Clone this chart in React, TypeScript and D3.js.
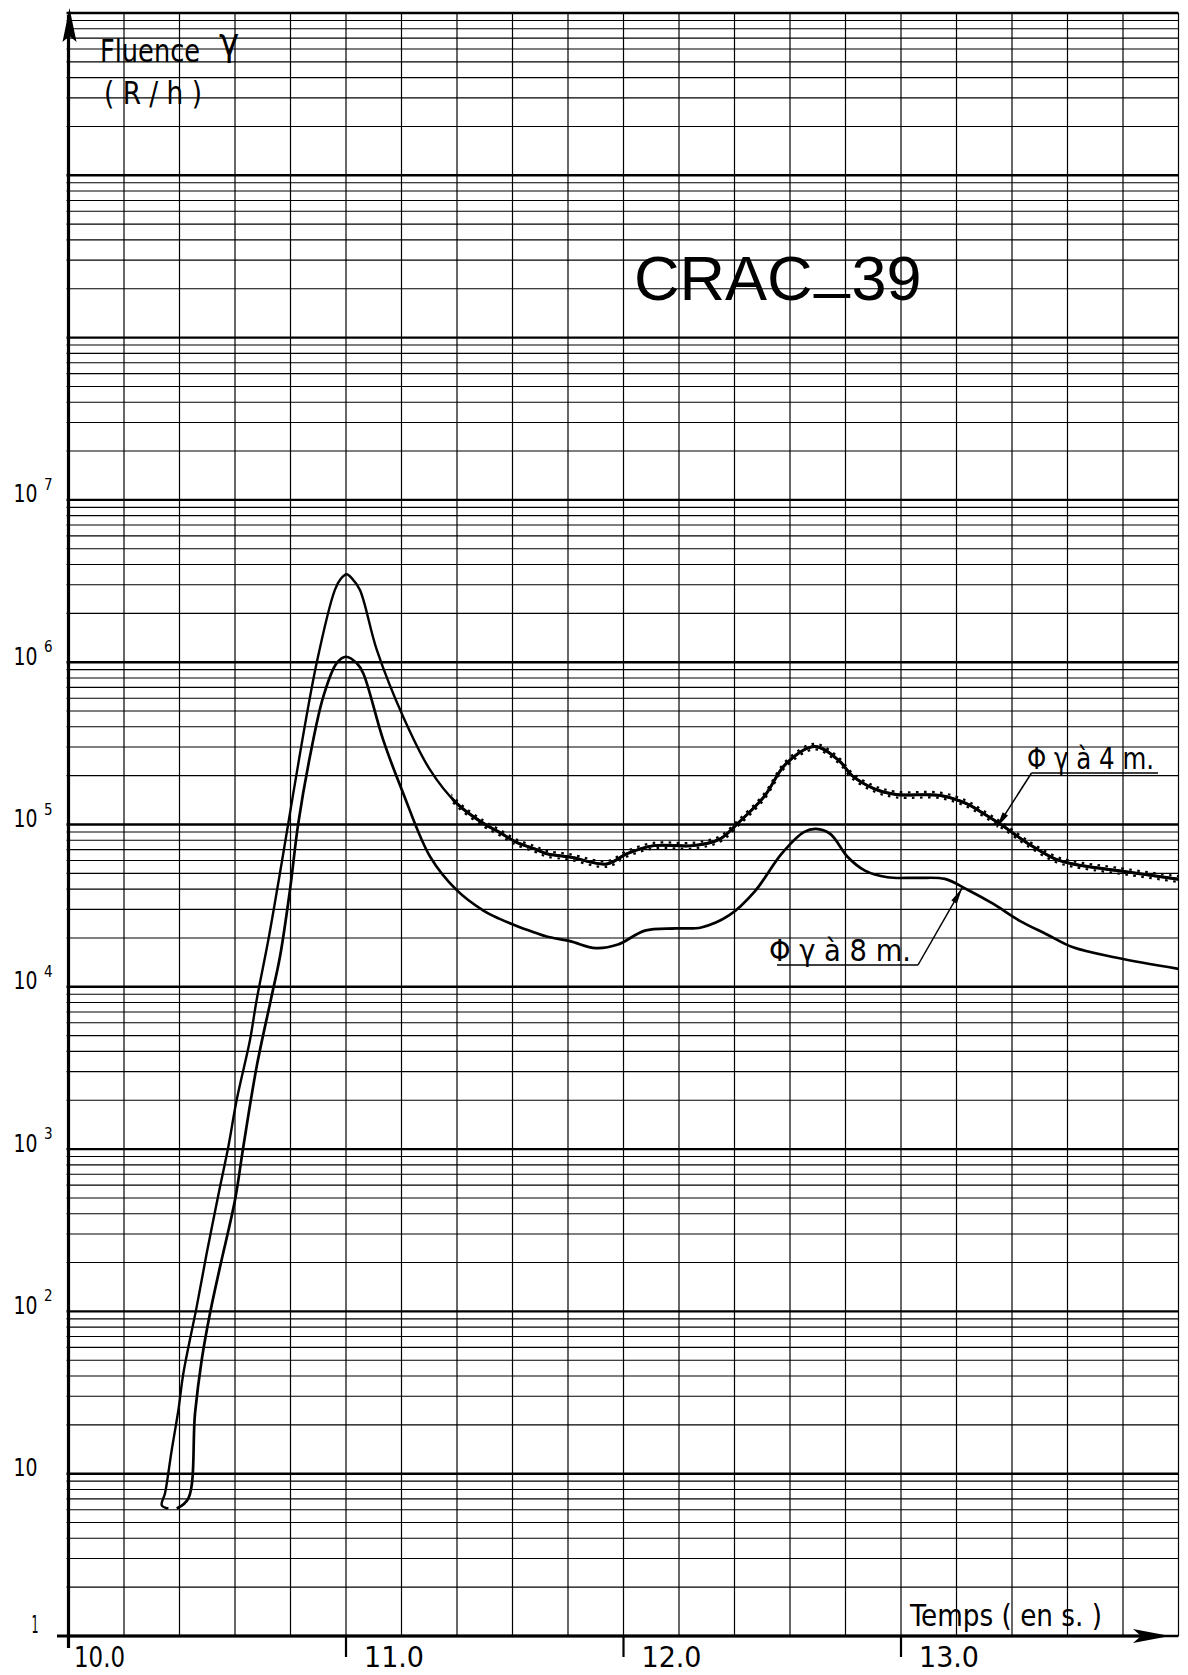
import React from 'react';
import * as d3 from 'd3';

// ---- Data ----
const time4m = [10.360, 10.336, 10.348, 10.372, 10.396, 10.414, 10.462, 10.498, 10.546, 10.576, 10.606, 10.654, 10.678, 10.720, 10.768, 10.792, 10.810, 10.894, 10.960, 10.980, 11.002, 11.022, 11.050, 11.111, 11.206, 11.303, 11.399, 11.495, 11.552, 11.615, 11.680, 11.723, 11.807, 11.940, 12.013, 12.110, 12.250, 12.347, 12.410, 12.506, 12.586, 12.689, 12.776, 12.824, 12.904, 12.983, 13.142, 13.238, 13.300, 13.365, 13.460, 13.555, 13.620, 13.780, 14.000];
const flux4m = [6.1, 6.4, 7.6, 14, 24.7, 41.6, 107, 228, 586, 1035, 2005, 4700, 8300, 19400, 57700, 101600, 155600, 984000, 2.79e6, 3.24e6, 3.48e6, 3.27e6, 2.79e6, 1.19e6, 461000, 217000, 135000, 101600, 89700, 77600, 70800, 66100, 63100, 57100, 66100, 74100, 74100, 81300, 101000, 148000, 237000, 302000, 248000, 200000, 166000, 153000, 151000, 134000, 116000, 98600, 75900, 61400, 57100, 52000, 46000];

const time8m = [10.390, 10.432, 10.456, 10.480, 10.510, 10.546, 10.600, 10.630, 10.678, 10.729, 10.762, 10.798, 10.828, 10.870, 10.918, 10.966, 11.000, 11.039, 11.062, 11.134, 11.206, 11.303, 11.399, 11.495, 11.552, 11.615, 11.680, 11.723, 11.807, 11.900, 11.980, 12.077, 12.188, 12.280, 12.380, 12.474, 12.570, 12.650, 12.694, 12.745, 12.808, 12.870, 12.951, 13.060, 13.158, 13.238, 13.333, 13.428, 13.524, 13.620, 13.778, 14.000];
const flux8m = [6.1, 7.05, 23.6, 50.2, 97.3, 188, 485, 1035, 3220, 8300, 15300, 39400, 101600, 262000, 612000, 984000, 1.08e6, 984000, 855000, 332000, 156000, 63400, 39400, 29500, 26300, 23700, 21600, 20400, 19100, 17300, 18200, 22200, 22900, 23200, 27500, 38900, 66100, 89700, 94000, 87500, 63100, 52000, 47300, 46900, 46200, 39800, 32400, 25500, 21100, 17500, 15100, 12900];

const timeTicks = [10, 11, 12, 13];
const timeTickLabels = ['10.0', '11.0', '12.0', '13.0'];
const decadeValues = [1, 10, 1e2, 1e3, 1e4, 1e5, 1e6, 1e7];
const decadeBase = ['1', '10', '10', '10', '10', '10', '10', '10'];
const decadeExp = ['', '', '2', '3', '4', '5', '6', '7'];

const titleMain = 'CRAC';
const titleSep = '_';
const titleNum = '39';
const yTitle1 = 'Fluence';
const yTitle2 = '( R / h )';
const xTitle = 'Temps ( en s. )';
const label4m = 'Φ γ à 4 m.';
const label8m = 'Φ γ à 8 m.';
const arrow4m = { t: 13.345, v: 96000 };
const arrow8m = { t: 13.22, v: 40500 };

const W = 1188;
const H = 1675;
const LETTER = "'DejaVu Sans Condensed', 'DejaVu Sans', sans-serif";

function arrowHead(x1: number, y1: number, x2: number, y2: number, len = 16, hw = 3.2) {
  const a = Math.atan2(y2 - y1, x2 - x1);
  const bx = x2 - len * Math.cos(a);
  const by = y2 - len * Math.sin(a);
  const px = -Math.sin(a) * hw;
  const py = Math.cos(a) * hw;
  return `M${x2},${y2}L${bx + px},${by + py}L${bx - px},${by - py}Z`;
}

export default function App() {
  const x = d3.scaleLinear().domain([10, 14]).range([68.5, 1178.5]);
  const y = d3.scaleLog().domain([1, 1e10]).range([1636, 13]);

  const vTicks = x.ticks(20);
  const hTicks = y.ticks(30);

  const line = d3
    .line<[number, number]>()
    .x((d) => x(d[0]))
    .y((d) => y(d[1]))
    .curve(d3.curveCatmullRom.alpha(0.5));

  const pts4m = time4m.map((t, i) => [t, flux4m[i]] as [number, number]);
  const pts8m = time8m.map((t, i) => [t, flux8m[i]] as [number, number]);
  const path4m = line(pts4m) || '';
  const path8m = line(pts8m) || '';

  const x0 = x(10);
  const xEnd = x(14);
  const yBottom = y(1);
  const yTop = y(1e10);

  const a4x = x(arrow4m.t), a4y = y(arrow4m.v);
  const a8x = x(arrow8m.t), a8y = y(arrow8m.v);
  const l4 = { x1: 1031.5, y1: 773 };
  const l8 = { x1: 918, y1: 965 };

  return (
    <svg
      width={W}
      height={H}
      viewBox={`0 0 ${W} ${H}`}
      style={{ position: 'absolute', left: 0, top: 0, display: 'block', background: '#fff' }}
    >
      <defs>
        <clipPath id="rippleClip">
          <rect x={x(11.38)} y={0} width={W} height={H} />
        </clipPath>
      </defs>
      <rect x={0} y={0} width={W} height={H} fill="#fff" />

      {/* horizontal log grid */}
      <g stroke="#000">
        {hTicks.map((v, i) => {
          const major = Math.abs(Math.log10(v) - Math.round(Math.log10(v))) < 1e-9;
          return (
            <line
              key={'h' + i}
              x1={x0 - 2}
              x2={xEnd}
              y1={y(v)}
              y2={y(v)}
              strokeWidth={major ? 2.4 : 1.1}
            />
          );
        })}
      </g>
      {/* vertical grid */}
      <g stroke="#000">
        {vTicks.map((t, i) => (
          <line key={'v' + i} x1={x(t)} x2={x(t)} y1={yTop} y2={yBottom} strokeWidth={1.2} />
        ))}
      </g>

      {/* axes */}
      <line x1={x0} x2={x0} y1={yBottom + 12} y2={yTop + 2} stroke="#000" strokeWidth={3.2} />
      <path d={`M${x0 + 1},8 L${x0 - 6},42 L${x0 + 1},36 L${x0 + 8},42 Z`} fill="#000" />
      <line x1={57} x2={1140} y1={yBottom} y2={yBottom} stroke="#000" strokeWidth={3.2} />
      <path d={`M1170,${yBottom} L1133,${yBottom - 7} L1141,${yBottom} L1133,${yBottom + 7} Z`} fill="#000" />
      {timeTicks.slice(1).map((t, i) => (
        <line key={'mt' + i} x1={x(t)} x2={x(t)} y1={yBottom} y2={yBottom + 21} stroke="#000" strokeWidth={2.2} />
      ))}

      {/* x tick labels */}
      {timeTicks.map((t, i) => (
        <text
          key={'xl' + i}
          x={x(t) + (i === 0 ? 5.5 : 18)}
          y={1667}
          fontFamily={LETTER}
          fontSize={28}
          textLength={i === 0 ? 51 : 60}
          lengthAdjust="spacingAndGlyphs"
          fill="#000"
        >
          {timeTickLabels[i]}
        </text>
      ))}

      {/* y tick labels */}
      {decadeValues.map((v, i) => {
        const yy = y(v);
        const base = decadeBase[i];
        const isOne = base === '1';
        return (
          <g key={'yl' + i} fill="#000" fontFamily={LETTER}>
            <text
              x={isOne ? 38.5 : 37.5}
              y={isOne ? yy - 3 : yy + 2.5}
              fontSize={25}
              textAnchor="end"
              textLength={isOne ? 7 : 24}
              lengthAdjust="spacingAndGlyphs"
            >
              {base}
            </text>
            {decadeExp[i] && (
              <text x={44} y={yy - 10} fontSize={15}>
                {decadeExp[i]}
              </text>
            )}
          </g>
        );
      })}

      {/* curves */}
      <path d={path8m} fill="none" stroke="#000" strokeWidth={2.7} strokeLinejoin="round" />
      <path d={path4m} fill="none" stroke="#000" strokeWidth={2.4} strokeLinejoin="round" />
      <g clipPath="url(#rippleClip)" fill="none" stroke="#000" strokeWidth={2.2}>
        <path d={path4m} strokeWidth={3} />
        <path d={path4m} transform="translate(0,-2.8)" strokeDasharray="2.6 5.4" />
        <path d={path4m} transform="translate(0,2.8)" strokeDasharray="2.6 5.4" strokeDashoffset={4} />
      </g>

      {/* annotations */}
      <g stroke="#000" strokeWidth={1.5} fill="none">
        <line x1={l4.x1} y1={l4.y1} x2={1158} y2={l4.y1} />
        <line x1={l4.x1} y1={l4.y1} x2={a4x} y2={a4y} />
        <line x1={777} y1={l8.y1} x2={l8.x1} y2={l8.y1} />
        <line x1={l8.x1} y1={l8.y1} x2={a8x} y2={a8y} />
      </g>
      <path d={arrowHead(l4.x1, l4.y1, a4x, a4y)} fill="#000" />
      <path d={arrowHead(l8.x1, l8.y1, a8x, a8y)} fill="#000" />
      <text x={1027} y={769} fontFamily={LETTER} fontSize={30} textLength={127} lengthAdjust="spacingAndGlyphs" fill="#000">
        {label4m}
      </text>
      <text x={769} y={961} fontFamily={LETTER} fontSize={30} textLength={142} lengthAdjust="spacingAndGlyphs" fill="#000">
        {label8m}
      </text>

      {/* titles */}
      <text x={634} y={300} fontFamily="'Liberation Sans', Arial, sans-serif" fontSize={63} fill="#000">
        <tspan>{titleMain}</tspan>
        <tspan dy={-15} dx={2}>{titleSep}</tspan>
        <tspan dy={15} dx={2}>{titleNum}</tspan>
      </text>
      <text x={100} y={62} fontFamily={LETTER} fontSize={32} textLength={100} lengthAdjust="spacingAndGlyphs" fill="#000">
        {yTitle1}
      </text>
      <text x={219} y={55} fontFamily={LETTER} fontSize={38} fill="#000">
        γ
      </text>
      <text x={104} y={104} fontFamily={LETTER} fontSize={32} textLength={98} lengthAdjust="spacingAndGlyphs" fill="#000">
        {yTitle2}
      </text>
      <text x={910} y={1626} fontFamily={LETTER} fontSize={31} textLength={192} lengthAdjust="spacingAndGlyphs" fill="#000">
        {xTitle}
      </text>
    </svg>
  );
}
